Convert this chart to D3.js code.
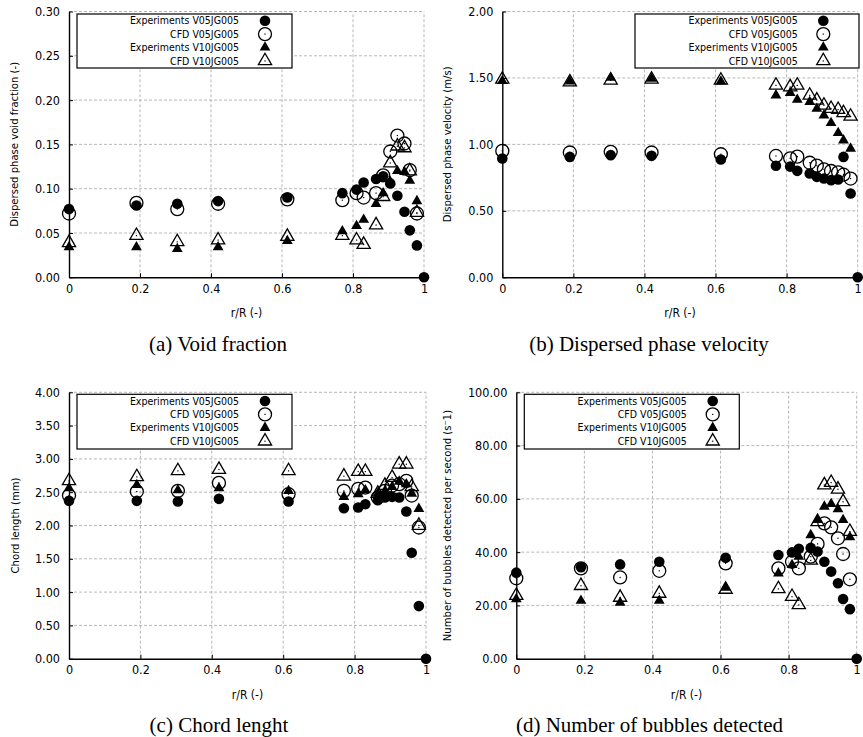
<!DOCTYPE html>
<html><head><meta charset="utf-8">
<script src="https://cdn.jsdelivr.net/npm/d3@7"></script>
<style>
body{margin:0;background:#fff;}
svg{display:block;}
</style></head>
<body>
<svg id="c" width="863" height="737"></svg>
<script>
// ---- data ----
const rR = [0, 0.19, 0.305, 0.42, 0.615, 0.77, 0.81, 0.83, 0.865, 0.885, 0.905, 0.925, 0.945, 0.96, 0.98, 1.0];
const seriesNames = ["Experiments V05JG005", "CFD V05JG005", "Experiments V10JG005", "CFD V10JG005"];
const xTicks = [0, 0.2, 0.4, 0.6, 0.8, 1];

// (a) void fraction
const voidExpV05 = [0.077, 0.081, 0.083, 0.086, 0.090, 0.095, 0.099, 0.107, 0.111, 0.114, 0.106, 0.092, 0.074, 0.053, 0.036, 0.0];
const voidCfdV05 = [0.072, 0.084, 0.077, 0.083, 0.088, 0.087, 0.095, 0.090, 0.095, 0.115, 0.142, 0.160, 0.151, 0.121, 0.072];
const voidExpV10 = [0.034, 0.034, 0.032, 0.034, 0.041, 0.052, 0.058, 0.065, 0.083, 0.095, 0.108, 0.120, 0.119, 0.109, 0.086];
const voidCfdV10 = [0.039, 0.047, 0.040, 0.042, 0.046, 0.047, 0.042, 0.037, 0.059, 0.091, 0.129, 0.148, 0.146, 0.120, 0.073];
const voidTicks = [0, 0.05, 0.10, 0.15, 0.20, 0.25, 0.30];

// (b) dispersed phase velocity
const velExpV05 = [0.894, 0.906, 0.919, 0.914, 0.886, 0.839, 0.833, 0.801, 0.781, 0.756, 0.743, 0.731, 0.736, 0.906, 0.631, 0.0];
const velCfdV05 = [0.951, 0.939, 0.944, 0.939, 0.926, 0.913, 0.895, 0.908, 0.862, 0.840, 0.812, 0.800, 0.790, 0.772, 0.743];
const velExpV10 = [1.477, 1.474, 1.502, 1.494, 1.474, 1.369, 1.387, 1.337, 1.319, 1.269, 1.219, 1.161, 1.086, 1.031, 0.969];
const velCfdV10 = [1.489, 1.469, 1.482, 1.489, 1.482, 1.444, 1.432, 1.444, 1.369, 1.332, 1.294, 1.269, 1.262, 1.237, 1.211];
const velTicks = [0, 0.5, 1.0, 1.5, 2.0];

// (c) chord length
const chordExpV05 = [2.37, 2.37, 2.36, 2.40, 2.36, 2.26, 2.27, 2.32, 2.38, 2.42, 2.43, 2.42, 2.21, 1.59, 0.79, 0];
const chordCfdV05 = [2.45, 2.51, 2.52, 2.64, 2.47, 2.52, 2.55, 2.57, 2.42, 2.52, 2.60, 2.62, 2.67, 2.45, 1.97];
const chordExpV10 = [2.56, 2.61, 2.53, 2.56, 2.52, 2.43, 2.47, 2.53, 2.48, 2.52, 2.58, 2.66, 2.62, 2.48, 2.25];
const chordCfdV10 = [2.67, 2.73, 2.82, 2.84, 2.82, 2.74, 2.81, 2.81, 2.48, 2.60, 2.72, 2.92, 2.92, 2.58, 2.00];
const chordTicks = [0, 0.5, 1.0, 1.5, 2.0, 2.5, 3.0, 3.5, 4.0];

// (d) number of bubbles detected
const nbExpV05 = [32.3, 34.3, 35.4, 36.4, 37.9, 38.9, 39.9, 41.3, 41.6, 40.2, 36.4, 32.7, 28.3, 22.4, 18.6, 0];
const nbCfdV05 = [30.2, 33.9, 30.5, 33.0, 35.8, 33.9, 36.4, 33.9, 38.3, 43.1, 50.8, 49.3, 45.2, 39.3, 29.8];
const nbExpV10 = [22.4, 21.8, 21.0, 21.8, 26.7, 32.0, 35.2, 38.3, 46.4, 52.1, 57.1, 58.1, 56.1, 52.1, 45.6];
const nbCfdV10 = [23.7, 27.4, 23.0, 24.5, 26.0, 26.2, 23.3, 20.2, 36.9, 51.4, 65.2, 66.1, 63.6, 58.9, 47.7];
const nbTicks = [0, 20, 40, 60, 80, 100];

// ---- layout ----
const FONT = "'DejaVu Sans Condensed','DejaVu Sans',sans-serif";
const SERIF = "'Liberation Serif','Times New Roman',serif";
const panels = [
  {x0:69, x1:424, y0:277.3, y1:11.5, ymax:0.30, ticks:voidTicks,
   series:[voidExpV05, voidCfdV05, voidExpV10, voidCfdV10],
   ylab:"Dispersed phase void fraction (-)", ylx:14, cap:"(a) Void fraction", capx:218,
   leg:{x:77, y:14, w:215, h:54, tx:239, mx:265}},
  {x0:502.3, x1:857.7, y0:277.3, y1:11.5, ymax:2.0, ticks:velTicks,
   series:[velExpV05, velCfdV05, velExpV10, velCfdV10],
   ylab:"Dispersed phase velocity (m/s)", ylx:447, cap:"(b) Dispersed phase velocity", capx:649,
   leg:{x:635, y:14, w:224, h:54, tx:797.7, mx:823.3}},
  {x0:69, x1:426, y0:658.7, y1:392.3, ymax:4.0, ticks:chordTicks,
   series:[chordExpV05, chordCfdV05, chordExpV10, chordCfdV10],
   ylab:"Chord length (mm)", ylx:15, cap:"(c) Chord lenght", capx:219,
   leg:{x:77, y:394.3, w:215, h:54.7, tx:239, mx:265}},
  {x0:516.3, x1:856.7, y0:658.7, y1:392.3, ymax:100, ticks:nbTicks,
   series:[nbExpV05, nbCfdV05, nbExpV10, nbCfdV10],
   ylab:"Number of bubbles detected per second (s\u207B1)", ylx:447, cap:"(d) Number of bubbles detected", capx:649.5,
   leg:{x:524.3, y:394.3, w:215, h:54.7, tx:686.7, mx:712.7}}
];

const svg = d3.select("#c");
svg.append("rect").attr("width",863).attr("height",737).attr("fill","#fff");

const symFilledCircle = d3.symbol().type(d3.symbolCircle).size(Math.PI*5.3*5.3);
const symOpenCircle = d3.symbol().type(d3.symbolCircle).size(Math.PI*6.5*6.5);
const symFilledTri = d3.symbol().type(d3.symbolTriangle).size(Math.sqrt(3)/4*10.8*10.8);
const symOpenTri = d3.symbol().type(d3.symbolTriangle).size(Math.sqrt(3)/4*13.2*13.2);
const markers = [
  {path:symFilledCircle(), fill:"#000", stroke:"none", dot:false},
  {path:symOpenCircle(), fill:"none", stroke:"#000", dot:true},
  {path:symFilledTri(), fill:"#000", stroke:"none", dot:false},
  {path:symOpenTri(), fill:"none", stroke:"#000", dot:true}
];

function drawMarker(g, k, x, y){
  const m = markers[k];
  const gg = g.append("g").attr("transform",`translate(${x},${y})`);
  gg.append("path").attr("d", m.path).attr("fill", m.fill)
    .attr("stroke", m.stroke).attr("stroke-width", 1.3);
  if (m.dot) gg.append("rect").attr("x",-0.6).attr("y",-0.6).attr("width",1.2).attr("height",1.2).attr("fill","#000");
}

panels.forEach(p => {
  const x = d3.scaleLinear().domain([0,1]).range([p.x0, p.x1]);
  const y = d3.scaleLinear().domain([0,p.ymax]).range([p.y0, p.y1]);
  const g = svg.append("g");

  // grid
  const grid = g.append("g");
  xTicks.slice(1).forEach(t => grid.append("line")
    .attr("x1",x(t)).attr("x2",x(t)).attr("y1",p.y0).attr("y2",p.y1)
    .attr("stroke","#b0b0b0").attr("stroke-width",0.9).attr("stroke-dasharray","3,2"));
  p.ticks.slice(1).forEach(t => grid.append("line")
    .attr("x1",p.x0).attr("x2",p.x1).attr("y1",y(t)).attr("y2",y(t))
    .attr("stroke","#b0b0b0").attr("stroke-width",0.9).attr("stroke-dasharray","3,2"));

  // axes with inward ticks
  const xa = g.append("g").attr("transform",`translate(0,${p.y0})`)
    .call(d3.axisBottom(x).tickValues(xTicks).tickSizeInner(-4).tickSizeOuter(0).tickPadding(9)
      .tickFormat(d3.format("~g")));
  const ya = g.append("g").attr("transform",`translate(${p.x0},0)`)
    .call(d3.axisLeft(y).tickValues(p.ticks).tickSizeInner(-4).tickSizeOuter(0).tickPadding(9)
      .tickFormat(d3.format(".2f")));
  [xa, ya].forEach(a => {
    a.select(".domain").attr("stroke","#000").attr("stroke-width",1.4);
    a.selectAll(".tick line").attr("stroke","#000").attr("stroke-width",1);
    a.selectAll(".tick text").attr("font-family",FONT).attr("font-stretch","condensed")
      .attr("font-size",12.5).attr("fill","#000");
  });
  xa.selectAll(".tick text").attr("dy","0.75em").attr("y",6);
  ya.selectAll(".tick text").attr("x",-9);

  // labels
  g.append("text").attr("x",(p.x0+p.x1)/2).attr("y",p.y0+40)
    .attr("text-anchor","middle").attr("font-family",FONT).attr("font-stretch","condensed")
    .attr("font-size",12).text("r/R (-)");
  g.append("text").attr("transform",`translate(${p.ylx},${(p.y0+p.y1)/2}) rotate(-90)`)
    .attr("text-anchor","middle").attr("dy","0.35em").attr("font-family",FONT).attr("font-stretch","condensed")
    .attr("font-size",11.2).text(p.ylab);
  g.append("text").attr("x",p.capx).attr("y",p.y0+73.5)
    .attr("text-anchor","middle").attr("font-family",SERIF).attr("font-size",21).text(p.cap);

  // data
  const dg = g.append("g");
  p.series.forEach((vals,k) => {
    vals.forEach((v,i) => drawMarker(dg, k, x(rR[i]), y(v)));
  });

  // legend
  const L = p.leg;
  const lg = g.append("g");
  lg.append("rect").attr("x",L.x).attr("y",L.y).attr("width",L.w).attr("height",L.h)
    .attr("fill","#fff").attr("stroke","#000").attr("stroke-width",1.2);
  seriesNames.forEach((s,k) => {
    const yy = L.y + 6.7 + k*13.4;
    lg.append("text").attr("x",L.tx).attr("y",yy).attr("dy","0.35em").attr("text-anchor","end")
      .attr("font-family",FONT).attr("font-stretch","condensed").attr("font-size",10.5).text(s);
    drawMarker(lg, k, L.mx, yy);
  });
});
</script>
</body></html>
